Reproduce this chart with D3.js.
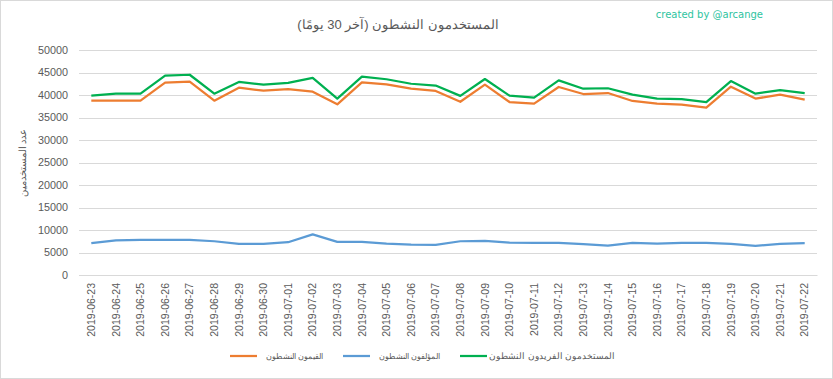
<!DOCTYPE html>
<html>
<head>
<meta charset="utf-8">
<script src="https://cdn.jsdelivr.net/npm/d3@7"></script>
<style>
  body { margin: 0; background: #fff; }
  text { font-family: "Liberation Sans", "Noto Sans", sans-serif; }
</style>
</head>
<body>
<div id="chart"></div>
<script>
// dates (30 days)
const dates = ["2019-06-23","2019-06-24","2019-06-25","2019-06-26","2019-06-27","2019-06-28","2019-06-29","2019-06-30",
  "2019-07-01","2019-07-02","2019-07-03","2019-07-04","2019-07-05","2019-07-06","2019-07-07","2019-07-08","2019-07-09",
  "2019-07-10","2019-07-11","2019-07-12","2019-07-13","2019-07-14","2019-07-15","2019-07-16","2019-07-17","2019-07-18",
  "2019-07-19","2019-07-20","2019-07-21","2019-07-22"];

// القيمون النشطون
const curators = [38740,38740,38740,42740,42960,38740,41630,40960,41330,40740,37930,42800,42370,41400,40900,
  38500,42300,38440,38070,41780,40220,40440,38670,38070,37850,37190,41850,39200,40070,38960];
// المؤلفون النشطون
const authors = [7060,7720,7790,7790,7790,7500,6910,6910,7280,9040,7350,7350,6980,6760,6690,
  7500,7570,7200,7130,7130,6840,6540,7130,6980,7130,7130,6910,6470,6910,7060];
// المستخدمون الفريدون النشطون
const uniques = [39850,40300,40300,44300,44500,40300,42900,42300,42700,43800,39200,44100,43500,42500,42100,
  39800,43550,39850,39400,43260,41400,41500,40070,39200,39100,38440,43100,40300,41100,40440];

const yTicks = [0,5000,10000,15000,20000,25000,30000,35000,40000,45000,50000];

const W = 833, H = 379;
const plot = {left: 79, right: 817, top: 50, bottom: 275};

const svg = d3.select("#chart").append("svg")
  .attr("width", W).attr("height", H);

// chart border
svg.append("rect")
  .attr("x", 0.5).attr("y", 0.5)
  .attr("width", W - 1).attr("height", H - 1)
  .attr("fill", "#fff").attr("stroke", "#d9d9d9");

const x = d3.scaleBand().domain(dates).range([plot.left, plot.right]);
const cx = d => x(d) + x.bandwidth() / 2;
const y = d3.scaleLinear().domain([0, 50000]).range([plot.bottom, plot.top]);

// fit an Arabic label to a given width by adjusting its font size
function fitWidth(sel, size, target) {
  sel.style("font-size", size + "px");
  const w = sel.node().getBBox().width;
  if (w > 0) sel.style("font-size", (size * target / w).toFixed(2) + "px");
  return sel;
}

// gridlines
svg.append("g")
  .selectAll("line")
  .data(yTicks)
  .join("line")
    .attr("x1", plot.left).attr("x2", plot.right)
    .attr("y1", d => Math.round(y(d)) + 0.5).attr("y2", d => Math.round(y(d)) + 0.5)
    .attr("stroke", "#d9d9d9").attr("stroke-width", 1);

// y axis labels
const yAxis = svg.append("g")
  .attr("transform", `translate(${plot.left},0)`)
  .call(d3.axisLeft(y).tickValues(yTicks).tickSize(0).tickPadding(11).tickFormat(d3.format("d")));
yAxis.select(".domain").remove();
yAxis.selectAll("text").attr("fill", "#595959").style("font-size", "10.8px")
  .style("font-family", "Liberation Sans, sans-serif");

// x axis
const xAxis = svg.append("g")
  .attr("transform", `translate(0,${plot.bottom})`)
  .call(d3.axisBottom(x).tickSize(0).tickPadding(8));
xAxis.select(".domain").attr("stroke", "#d9d9d9");
xAxis.selectAll("text")
  .attr("fill", "#595959").style("font-size", "10.5px")
  .style("font-family", "Liberation Sans, sans-serif")
  .attr("transform", "rotate(-90)")
  .attr("text-anchor", "end")
  .attr("x", -8).attr("y", 0).attr("dy", "0.35em");

// lines
const series = [
  {name: "القيمون النشطون", values: curators, color: "#ed7d31"},
  {name: "المؤلفون النشطون", values: authors, color: "#5b9bd5"},
  {name: "المستخدمون الفريدون النشطون", values: uniques, color: "#00b050"}
];

const line = d3.line()
  .x((d, i) => cx(dates[i]))
  .y(d => y(d));

svg.append("g")
  .selectAll("path")
  .data(series)
  .join("path")
    .attr("d", d => line(d.values))
    .attr("fill", "none")
    .attr("stroke", d => d.color)
    .attr("stroke-width", 2.25)
    .attr("stroke-linejoin", "round");

// title
const title = svg.append("text")
  .attr("x", 398).attr("y", 29)
  .attr("text-anchor", "middle")
  .attr("direction", "rtl")
  .attr("fill", "#595959")
  .text("المستخدمون النشطون (آخر 30 يومًا)");
fitWidth(title, 13.5, 200);

svg.append("text")
  .attr("x", 763).attr("y", 18)
  .attr("text-anchor", "end")
  .attr("fill", "#2ec4a0")
  .style("font-family", "DejaVu Sans, sans-serif")
  .style("font-size", "10px")
  .text("created by @arcange");

// y axis title
const yTitle = svg.append("text")
  .attr("transform", "translate(26,163) rotate(-90)")
  .attr("text-anchor", "middle")
  .attr("direction", "rtl")
  .attr("fill", "#595959")
  .text("عدد المستخدمين");
fitWidth(yTitle, 10, 67);

// legend: line on the left, text's right edge at tx
const legendPos = [{lx: 230, tx: 323, w: 61}, {lx: 343, tx: 440, w: 65}, {lx: 460, tx: 615, w: 125}];
const lg = svg.append("g").selectAll("g")
  .data(series)
  .join("g");
lg.append("line")
  .attr("x1", (d, i) => legendPos[i].lx).attr("x2", (d, i) => legendPos[i].lx + 27)
  .attr("y1", 356).attr("y2", 356)
  .attr("stroke", d => d.color).attr("stroke-width", 2.25);
lg.append("text")
  .attr("x", 0).attr("y", 359)
  .attr("fill", "#595959")
  .text(d => d.name)
  .each(function(d, i) {
    const t = fitWidth(d3.select(this), 9.5, legendPos[i].w);
    const b = this.getBBox();
    t.attr("transform", `translate(${legendPos[i].tx - (b.x + b.width)},0)`);
  });
</script>
</body>
</html>
